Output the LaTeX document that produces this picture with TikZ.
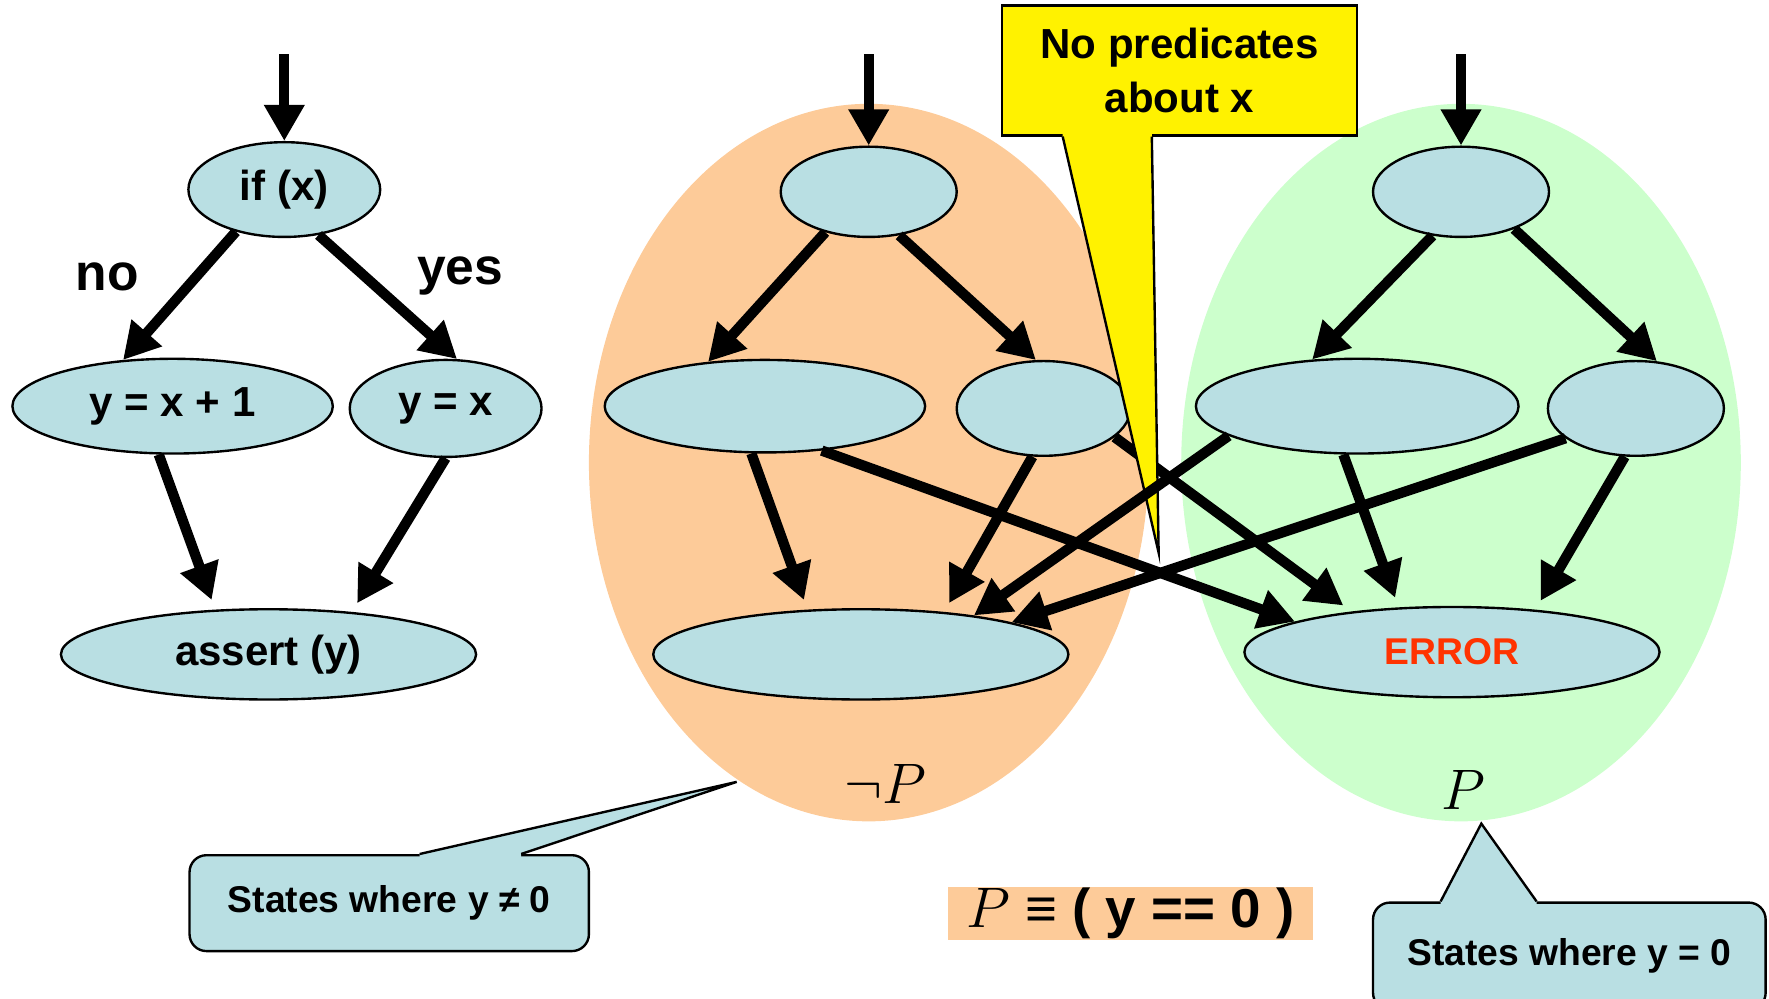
\documentclass[tikz,border=0pt]{standalone}
\usepackage{fontspec}
\setmainfont{Liberation Sans}
\usetikzlibrary{shapes.geometric,arrows.meta,calc}

\definecolor{nodeblue}{RGB}{185,223,227}
\definecolor{negorange}{RGB}{253,203,153}
\definecolor{posgreen}{RGB}{204,255,204}
\definecolor{errred}{RGB}{255,51,0}

\tikzset{
  state/.style={draw, ellipse, fill=nodeblue, line width=0.6pt, inner sep=0pt,
    font=\bfseries\fontsize{10.6}{12}\selectfont},
  region/.style={ellipse, inner sep=0pt},
  flow/.style={line width=2.6pt, -{Triangle[length=3.2mm,width=3.4mm]}},
  gap/.style={shorten >=0.9mm},
  note/.style={draw, rounded corners=1.5mm, fill=nodeblue, line width=0.6pt,
    font=\bfseries\fontsize{9.4}{11}\selectfont},
  tail/.style={line width=0.6pt},
}

\begin{document}
\begin{tikzpicture}[y=-1cm]
  \useasboundingbox (0,0) rectangle (15.68,8.85);

  % state sets
  \node[region, fill=negorange, minimum width=4.96cm, minimum height=6.36cm] (neg) at (7.70,4.10) {};
  \node[region, fill=posgreen, minimum width=4.96cm, minimum height=6.36cm] (pos) at (12.95,4.10) {};
  \node (negP) at (7.85,6.95) {\fontsize{13.5}{15}\selectfont$\neg P$};
  \node (posP) at (12.97,7.00) {\fontsize{13.5}{15}\selectfont$P$};

  \node[fill=negorange, minimum width=3.24cm, minimum height=0.47cm, inner sep=0pt] (pdef) at (10.02,8.095)
    {\fontsize{13.8}{15}\selectfont$P$ \textbf{≡ ( y == 0 )}};

  % program
  \coordinate (in1) at (2.52,0.48);
  \node[state, minimum width=1.70cm, minimum height=0.84cm] (ifx) at (2.52,1.68) {if (x)};
  \node[state, minimum width=2.84cm, minimum height=0.84cm] (yx1) at (1.53,3.60) {y = x + 1};
  \node[state, minimum width=1.70cm, minimum height=0.86cm] (yx) at (3.95,3.62) {y = x};
  \node[state, minimum width=3.68cm, minimum height=0.80cm] (assert) at (2.38,5.80) {assert (y)};
  \node[font=\bfseries\fontsize{13}{15}\selectfont] (lno) at (0.95,2.45) {no};
  \node[font=\bfseries\fontsize{13}{15}\selectfont] (lyes) at (4.08,2.45) {yes};

  % abstraction with no predicates about x
  \coordinate (in2) at (7.70,0.48);
  \node[state, minimum width=1.56cm, minimum height=0.80cm] (top2) at (7.70,1.70) {};
  \node[state, minimum width=2.84cm, minimum height=0.82cm] (ml2) at (6.78,3.60) {};
  \node[state, minimum width=1.54cm, minimum height=0.84cm] (mr2) at (9.25,3.62) {};
  \node[state, minimum width=3.68cm, minimum height=0.80cm] (bot2) at (7.63,5.80) {};

  \coordinate (in3) at (12.95,0.48);
  \node[state, minimum width=1.56cm, minimum height=0.80cm] (top3) at (12.95,1.70) {};
  \node[state, minimum width=2.86cm, minimum height=0.84cm] (ml3) at (12.03,3.60) {};
  \node[state, minimum width=1.56cm, minimum height=0.84cm] (mr3) at (14.50,3.62) {};
  \node[state, minimum width=3.68cm, minimum height=0.80cm, text=errred,
    font=\bfseries\fontsize{9.4}{11}\selectfont] (err) at (12.87,5.78) {ERROR};

  \draw[flow] (in1) -- (ifx.north);
  \draw[flow] (ifx.221) -- (yx1.137);
  \draw[flow] (ifx.307) -- (yx.77);
  \draw[flow, gap] (yx1.254) -- (assert.140);
  \draw[flow, gap] (yx.270) -- (assert.27);

  \draw[flow] (in2) -- (top2.north);
  \draw[flow] (top2.223) -- (ml2.142);
  \draw[flow] (top2.305) -- (mr2.99);
  \draw[flow, gap] (ml2.254) -- (bot2.140);
  \draw[flow] (ml2.322) -- (err.169);
  \draw[flow, gap] (mr2.257) -- (bot2.27);
  \draw[flow, gap] (mr2.338) -- (err.158);

  % callout
  \node[draw, fill=yellow, line width=0.6pt, minimum width=3.15cm, minimum height=1.15cm, align=center,
    font=\bfseries\fontsize{10.6}{13.4}\selectfont] (nopred) at (10.455,0.625) {No predicates\\about x};
  \coordinate (nptip) at (10.27,4.90);
  \fill[yellow] ($(nopred.south west)+(0.55,0)$) -- (nptip) -- ($(nopred.south west)+(1.34,0)$)
    -- ++(0,-0.03) -- ($(nopred.south west)+(0.55,-0.03)$) -- cycle;
  \draw[tail] ($(nopred.south west)+(0.55,0)$) -- (nptip) -- ($(nopred.south west)+(1.34,0)$);

  \draw[flow] (in3) -- (top3.north);
  \draw[flow] (top3.237) -- (ml3.134);
  \draw[flow] (top3.325) -- (mr3.66);
  \draw[flow, gap] (ml3.254) -- (err.140);
  \draw[flow, gap] (mr3.257) -- (err.27);
  \draw[flow] (ml3.193) -- (bot2.19);
  \draw[flow] (mr3.203) -- (bot2.12);

  % notes
  \node[note, minimum width=3.54cm, minimum height=0.85cm] (nz) at (3.45,8.005) {States where y ≠ 0};
  \coordinate (nztip) at (6.53,6.93);
  \fill[nodeblue] ($(nz.north west)+(2.05,0)$) -- (nztip) -- ($(nz.north west)+(2.95,0)$)
    -- ++(0,0.03) -- ($(nz.north west)+(2.05,0.03)$) -- cycle;
  \draw[tail] ($(nz.north west)+(2.05,0)$) -- (nztip) -- ($(nz.north west)+(2.95,0)$);

  \node[note, minimum width=3.48cm, minimum height=0.95cm] (iz) at (13.91,8.475) {States where y = 0};
  \coordinate (iztip) at (13.13,7.30);
  \fill[nodeblue] ($(iz.north west)+(0.61,0)$) -- (iztip) -- ($(iz.north west)+(1.46,0)$)
    -- ++(0,0.03) -- ($(iz.north west)+(0.61,0.03)$) -- cycle;
  \draw[tail] ($(iz.north west)+(0.61,0)$) -- (iztip) -- ($(iz.north west)+(1.46,0)$);
\end{tikzpicture}
\end{document}
